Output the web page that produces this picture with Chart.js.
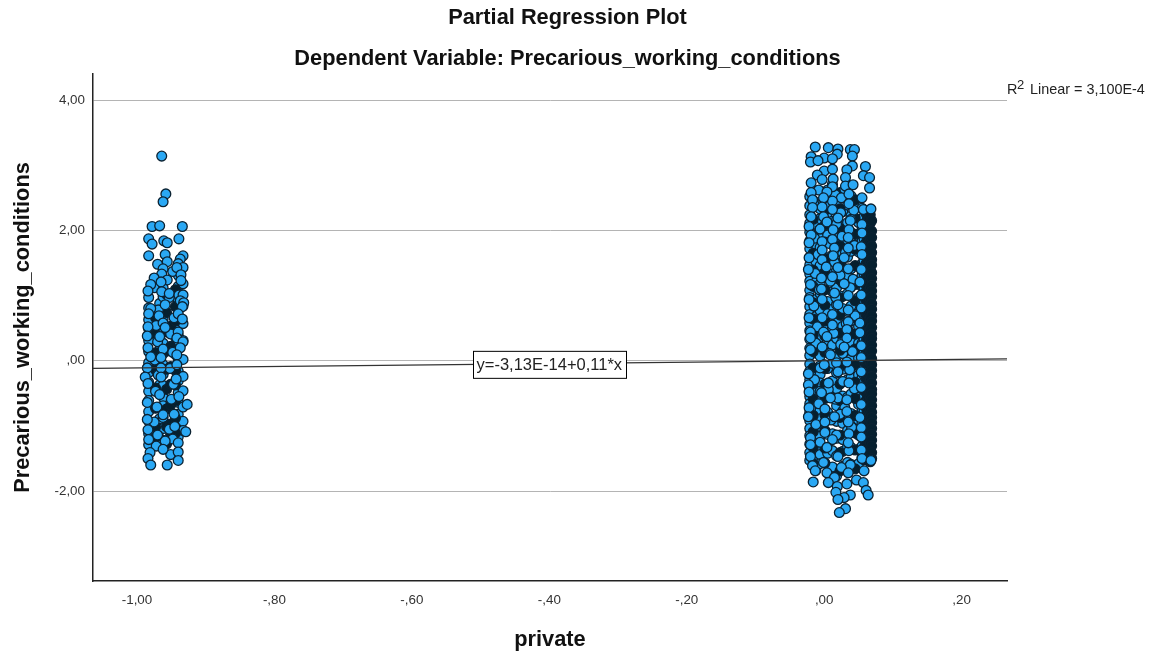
<!DOCTYPE html>
<html>
<head>
<meta charset="utf-8">
<title>Partial Regression Plot</title>
<script src="https://cdn.jsdelivr.net/npm/chart.js@4"></script>
<style>
  body { margin: 0; background: #fff; }
  canvas { display: block; }
</style>
</head>
<body>
<canvas id="myChart" width="1153" height="657"></canvas>
<script>
'use strict';

const xTicks = [-1, -0.8, -0.6, -0.4, -0.2, 0, 0.2];
const xTickLabels = ['-1,00', '-,80', '-,60', '-,40', '-,20', ',00', ',20'];
const yTicks = [4, 2, 0, -2];
const yTickLabels = ['4,00', '2,00', ',00', '-2,00'];

// regression line end points
const lineX = [-1.064, 0.266];
const lineY = [-0.117, 0.029];

// hidden points behind the visible ones, column by column
const leftColumnsX = [-0.983, -0.967, -0.962, -0.94, -0.933];
const leftColumnsY = [
  [0.97, 0.81, 0.63, 0.49, 0.31, 0.14, -0.03, -0.18, -0.33, -0.47, -0.61, -0.78, -0.93, -1.12, -1.29],
  [0.88, 0.71, 0.55, 0.33, 0.17, -0.01, -0.19, -0.37, -0.51, -0.71, -0.89, -1.07, -1.26],
  [1.12, 0.98, 0.79, 0.64, 0.46, 0.27, 0.11, -0.06, -0.21, -0.38, -0.56, -0.69, -0.87, -1.04, -1.22, -1.34],
  [1.31, 1.14, 0.93, 0.77, 0.58, 0.39, 0.24, 0.03, -0.16, -0.31, -0.49, -0.64, -0.82, -0.99, -1.17],
  [1.18, 0.84, 0.57, 0.31, 0.02, -0.24, -0.46, -0.71, -0.93, -1.07]
];
const leftBandX = [-0.973, -0.957, -0.951, -0.944];
const leftBandY = [
  [0.66, 0.41, 0.12, -0.14, -0.42, -0.73, -1.02, -1.18],
  [1.02, 0.74, 0.44, 0.15, -0.13, -0.44, -0.74, -1.01, -1.28],
  [0.53, 0.22, -0.09, -0.36, -0.68, -0.97, -1.13],
  [1.09, 0.83, 0.61, 0.36, 0.1, -0.15, -0.37, -0.62, -0.88, -1.11]
];
const rightColumnsX = [-0.021, -0.012, -0.006, 0.005, 0.012, 0.018, 0.027, 0.034, 0.039, 0.05, 0.055, 0.058];
const rightColumnsY = [
  [2.52, 2.38, 2.24, 2.11, 1.97, 1.84, 1.72, 1.59, 1.47, 1.33, 1.22, 1.08, 0.97, 0.83, 0.71, 0.58, 0.46, 0.33, 0.19, 0.08, -0.05, -0.16, -0.29, -0.41, -0.55, -0.66, -0.79, -0.92, -1.04, -1.15, -1.28, -1.41, -1.53],
  [2.41, 2.09, 1.78, 1.52, 1.21, 0.94, 0.68, 0.37, 0.12, -0.18, -0.44, -0.71, -0.98, -1.23, -1.49, -1.68],
  [2.33, 2.18, 2.02, 1.88, 1.74, 1.61, 1.46, 1.31, 1.18, 1.03, 0.89, 0.77, 0.62, 0.49, 0.36, 0.21, 0.07, -0.08, -0.21, -0.34, -0.47, -0.62, -0.76, -0.89, -1.01, -1.16, -1.31, -1.44, -1.58],
  [2.62, 2.27, 1.93, 1.58, 1.27, 0.91, 0.56, 0.23, -0.12, -0.46, -0.79, -1.13, -1.42, -1.71],
  [2.71, 2.43, 2.14, 1.86, 1.62, 1.33, 1.06, 0.79, 0.51, 0.24, -0.04, -0.31, -0.57, -0.86, -1.12, -1.38, -1.63],
  [2.44, 2.16, 1.89, 1.63, 1.38, 1.12, 0.86, 0.59, 0.34, 0.06, -0.19, -0.43, -0.69, -0.93, -1.19, -1.46, -1.77],
  [2.29, 2.07, 1.86, 1.64, 1.43, 1.19, 0.99, 0.78, 0.53, 0.31, 0.11, -0.13, -0.32, -0.54, -0.77, -0.96, -1.21, -1.39, -1.62],
  [2.64, 2.39, 2.12, 1.84, 1.59, 1.31, 1.03, 0.76, 0.49, 0.22, -0.03, -0.29, -0.56, -0.82, -1.07, -1.32, -1.56],
  [2.53, 2.22, 1.97, 1.68, 1.41, 1.13, 0.84, 0.61, 0.29, 0.03, -0.26, -0.51, -0.81, -1.08, -1.33, -1.59],
  [2.37, 2.12, 1.91, 1.67, 1.44, 1.22, 0.97, 0.73, 0.52, 0.27, 0.04, -0.22, -0.44, -0.67, -0.91, -1.14, -1.36, -1.58],
  [2.34, 2.17, 2.01, 1.83, 1.66, 1.49, 1.31, 1.14, 0.96, 0.79, 0.62, 0.44, 0.27, 0.09, -0.08, -0.26, -0.43, -0.61, -0.78, -0.96, -1.13, -1.31, -1.49],
  [2.31, 2.21, 2.09, 1.98, 1.87, 1.77, 1.66, 1.54, 1.43, 1.33, 1.21, 1.11, 0.99, 0.89, 0.77, 0.67, 0.56, 0.44, 0.33, 0.22, 0.12, 0.01, -0.11, -0.22, -0.33, -0.43, -0.56, -0.66, -0.77, -0.88, -0.99, -1.11, -1.21, -1.33, -1.44, -1.52]
];
// bands where the overlap is so thick that it reads as nearly black
const rightBandX = [-0.016, 0.001, 0.023, 0.045, 0.061, 0.063, 0.065, 0.067, 0.069];
const rightBandY = [
  [2.46, 2.17, 1.91, 1.65, 1.39, 1.14, 0.89, 0.64, 0.39, 0.14, -0.11, -0.35, -0.59, -0.84, -1.09, -1.33, -1.58],
  [2.56, 2.31, 2.08, 1.82, 1.56, 1.36, 1.09, 0.85, 0.61, 0.38, 0.13, -0.12, -0.36, -0.58, -0.83, -1.07, -1.34, -1.57],
  [2.58, 2.33, 2.03, 1.76, 1.49, 1.24, 0.96, 0.7, 0.42, 0.16, -0.09, -0.36, -0.61, -0.87, -1.14, -1.41, -1.69],
  [2.47, 2.19, 1.94, 1.71, 1.46, 1.17, 0.92, 0.66, 0.41, 0.18, -0.07, -0.33, -0.58, -0.84, -1.11, -1.37, -1.66],
  [2.26, 2.13, 2.04, 1.93, 1.81, 1.72, 1.61, 1.49, 1.38, 1.28, 1.16, 1.06, 0.93, 0.83, 0.71, 0.62, 0.51, 0.38, 0.29, 0.17, 0.07, -0.05, -0.16, -0.28, -0.38, -0.49, -0.61, -0.72, -0.83, -0.94, -1.06, -1.16, -1.28, -1.39, -1.51],
  [2.29, 2.22, 2.14, 2.07, 1.99, 1.92, 1.84, 1.77, 1.7, 1.62, 1.54, 1.47, 1.4, 1.32, 1.25, 1.17, 1.1, 1.02, 0.95, 0.87, 0.8, 0.72, 0.65, 0.58, 0.5, 0.42, 0.35, 0.27, 0.2, 0.12, 0.05, -0.03, -0.1, -0.17, -0.25, -0.33, -0.4, -0.47, -0.55, -0.62, -0.7, -0.78, -0.85, -0.92, -1, -1.07, -1.15, -1.22, -1.3, -1.37, -1.45, -1.52],
  [2.18, 2.03, 1.95, 1.82, 1.74, 1.64, 1.56, 1.45, 1.36, 1.27, 1.19, 1.08, 1, 0.91, 0.82, 0.74, 0.63, 0.54, 0.46, 0.36, 0.26, 0.18, 0.09, 0, -0.08, -0.19, -0.27, -0.35, -0.46, -0.53, -0.65, -0.74, -0.81, -0.9, -0.98, -1.08, -1.17, -1.24, -1.34, -1.43, -1.54],
  [2.24, 2.11, 1.96, 1.87, 1.79, 1.68, 1.58, 1.51, 1.39, 1.3, 1.21, 1.12, 1.04, 0.94, 0.86, 0.75, 0.67, 0.59, 0.48, 0.39, 0.31, 0.23, 0.14, 0.06, -0.04, -0.13, -0.21, -0.29, -0.38, -0.48, -0.57, -0.64, -0.74, -0.83, -0.91, -1.01, -1.09, -1.18, -1.26, -1.36, -1.47, -1.55],
  [2.15, 1.99, 1.89, 1.76, 1.66, 1.55, 1.47, 1.35, 1.26, 1.16, 1.07, 0.98, 0.88, 0.79, 0.69, 0.61, 0.51, 0.41, 0.34, 0.24, 0.15, 0.03, -0.06, -0.15, -0.24, -0.34, -0.44, -0.51, -0.6, -0.69, -0.79, -0.87, -0.95, -1.04, -1.13, -1.22, -1.31, -1.41, -1.5]
];
// more dots in the crowded parts of the two clusters
const leftExtraX = [-0.97, -0.948, -0.975, -0.953, -0.969, -0.946, -0.972, -0.951, -0.97, -0.948, -0.974, -0.952, -0.969, -0.947, -0.973, -0.95, -0.971, -0.946, -0.975, -0.953, -0.97, -0.948, -0.972, -0.951];
const leftExtraY = [1.48, 1.37, 1.12, 0.97, 0.78, 0.66, 0.54, 0.41, 0.29, 0.13, 0.01, -0.12, -0.22, -0.36, -0.47, -0.59, -0.71, -0.82, -0.94, -1.05, -1.14, -1.2, -1.31, -1.44];
const rightExtraX = [-0.008, 0.016, 0.03, -0.015, 0.008, 0.024, 0.043, -0.006, 0.018, 0.039, -0.014, 0.007, 0.026, 0.044, -0.009, 0.015, 0.031, -0.013, 0.009, 0.023, 0.042, -0.007, 0.017, 0.038, -0.015, 0.005, 0.027, 0.045, -0.01, 0.014, 0.032, -0.012, 0.008, 0.024, 0.041, -0.006, 0.018, 0.037, -0.014, 0.006, 0.027, 0.044, -0.008, 0.016, 0.03, -0.012, 0.01, 0.023, 0.04, -0.006, 0.018, 0.036];
const rightExtraY = [2.62, 2.55, 2.63, 2.4, 2.38, 2.27, 2.31, 2.02, 2.1, 2.17, 1.88, 1.8, 1.91, 1.77, 1.63, 1.51, 1.66, 1.34, 1.22, 1.31, 1.25, 1.09, 0.97, 1.12, 0.84, 0.72, 0.8, 0.69, 0.52, 0.42, 0.57, 0.27, 0.11, 0.25, 0.14, -0.11, -0.03, -0.14, -0.29, -0.44, -0.32, -0.43, -0.66, -0.59, -0.72, -0.98, -0.91, -0.82, -1.02, -1.25, -1.14, -1.38];

// points that can be read one by one
const leftX = [-0.964, -0.958, -0.962, -0.978, -0.967, -0.934, -0.983, -0.978, -0.961, -0.956, -0.939, -0.983, -0.959, -0.933, -0.937, -0.956, -0.94, -0.933, -0.942, -0.962, -0.964, -0.936, -0.975, -0.956, -0.936, -0.965, -0.98, -0.984, -0.964, -0.953, -0.939, -0.933, -0.937, -0.932, -0.959, -0.98, -0.934, -0.94, -0.983, -0.968, -0.962, -0.934, -0.984, -0.959, -0.94, -0.985, -0.967, -0.942, -0.933, -0.984, -0.962, -0.937, -0.942, -0.98, -0.965, -0.985, -0.942, -0.965, -0.988, -0.943, -0.965, -0.984, -0.967, -0.939, -0.927, -0.985, -0.962, -0.985, -0.945, -0.984, -0.929, -0.983, -0.959, -0.94, -0.962, -0.981, -0.94, -0.984, -0.94, -0.98, -0.956];
const leftY = [3.14, 2.56, 2.44, 2.06, 2.07, 2.06, 1.87, 1.79, 1.84, 1.81, 1.87, 1.61, 1.63, 1.61, 1.56, 1.52, 1.49, 1.43, 1.43, 1.41, 1.33, 1.32, 1.27, 1.24, 1.23, 1.21, 1.17, 1.07, 1.06, 1.03, 1.01, 1.01, 0.92, 0.89, 0.86, 0.8, 0.83, 0.72, 0.72, 0.69, 0.58, 0.64, 0.52, 0.51, 0.44, 0.38, 0.37, 0.35, 0.29, 0.2, 0.18, 0.2, 0.09, 0.06, 0.05, -0.11, -0.06, -0.11, -0.25, -0.28, -0.25, -0.35, -0.52, -0.55, -0.67, -0.64, -0.83, -0.9, -1.01, -1.06, -1.09, -1.21, -1.23, -1.26, -1.36, -1.41, -1.4, -1.5, -1.53, -1.6, -1.6];

const rightX = [-0.013, 0.006, 0.02, 0.038, 0.044, 0.019, 0.041, -0.019, 0, 0.012, -0.02, -0.009, 0.06, 0.041, 0, 0.012, 0.033, -0.01, 0.057, 0.066, 0.031, -0.003, 0.013, -0.019, 0.031, 0.066, 0.012, 0.042, -0.019, 0.004, 0.025, 0.036, 0.055, 0.012, -0.017, -0.001, 0.036, -0.003, -0.017, 0.057, 0.012, 0.068, -0.019, 0.02, -0.001, 0.004, 0.055, -0.022, 0.038, 0.013, 0.036, 0.055, -0.019, 0.035, 0.012, -0.003, -0.022, 0.054, 0.035, 0.015, -0.003, -0.022, 0.055, 0.029, 0.013, -0.003, 0.003, -0.023, 0.02, 0.035, 0.054, -0.004, 0.012, -0.02, 0.029, 0.052, -0.004, 0.015, 0.035, 0.054, -0.022, -0.003, 0.02, 0.054, 0.035, -0.022, -0.003, 0.012, 0.052, 0.035, -0.02, -0.001, 0.033, 0.052, 0.012, -0.02, 0.004, 0.033, -0.003, 0.029, 0.054, 0.009, -0.02, 0.033, 0.054, 0, 0.02, -0.023, 0.054, 0.006, -0.023, 0.036, 0.054, -0.004, -0.022, 0.02, 0.033, 0.009, -0.022, 0.001, 0.054, 0.033, -0.023, 0.015, 0.052, 0.035, 0.001, -0.02, 0.001, 0.012, 0.036, 0.054, 0.054, -0.02, 0.004, 0.035, 0.054, -0.02, 0.02, 0.055, 0.068, -0.001, -0.017, 0.038, 0.025, -0.013, 0.058, 0.004, 0.035, 0.015, 0.047, -0.016, 0.057, 0.033, 0.006, 0.019, 0.061, 0.038, 0.017, 0.064, 0.029, 0.02, 0.031, 0.022];
const rightY = [3.28, 3.27, 3.25, 3.24, 3.24, 3.17, 3.14, 3.13, 3.11, 3.1, 3.05, 3.07, 2.98, 2.99, 2.91, 2.94, 2.93, 2.85, 2.84, 2.81, 2.81, 2.78, 2.79, 2.73, 2.68, 2.65, 2.67, 2.7, 2.58, 2.59, 2.5, 2.56, 2.5, 2.45, 2.47, 2.5, 2.41, 2.36, 2.35, 2.32, 2.32, 2.33, 2.21, 2.19, 2.21, 2.13, 2.09, 2.06, 2.15, 2.01, 2.01, 1.96, 1.93, 1.89, 1.86, 1.83, 1.81, 1.75, 1.73, 1.73, 1.7, 1.58, 1.63, 1.58, 1.61, 1.55, 1.44, 1.4, 1.43, 1.41, 1.4, 1.27, 1.29, 1.17, 1.18, 1.21, 1.1, 1.04, 1, 1.01, 0.94, 0.94, 0.86, 0.81, 0.78, 0.66, 0.66, 0.71, 0.58, 0.6, 0.44, 0.44, 0.48, 0.43, 0.55, 0.35, 0.37, 0.35, 0.21, 0.21, 0.23, 0.09, 0.17, -0.02, 0.05, -0.06, -0.17, -0.2, -0.17, -0.34, -0.37, -0.34, -0.41, -0.49, -0.48, -0.57, -0.6, -0.57, -0.72, -0.74, -0.67, -0.78, -0.86, -0.86, -0.87, -0.94, -0.94, -1.18, -1.1, -1.21, -1.12, -1.03, -1.17, -1.29, -1.33, -1.26, -1.37, -1.47, -1.47, -1.5, -1.53, -1.56, -1.61, -1.6, -1.64, -1.69, -1.69, -1.72, -1.72, -1.79, -1.83, -1.86, -1.87, -1.89, -1.87, -1.93, -1.99, -2.06, -2.02, -2.06, -2.1, -2.13, -2.27, -2.33];

function toPoints(xs, ys) {
  return xs.map(function (x, i) {
    return { x: x, y: ys[i] };
  });
}

function columnsToPoints(colX, colY) {
  const points = [];
  for (let i = 0; i < colX.length; i++) {
    for (let j = 0; j < colY[i].length; j++) {
      points.push({ x: colX[i], y: colY[i][j] });
    }
  }
  return points;
}

const fixedTicks = function (values) {
  return function (scale) {
    scale.ticks = values.map(function (v) {
      return { value: v };
    });
  };
};

const pointStyle = {
  type: 'scatter',
  pointRadius: 4.9,
  pointHoverRadius: 4.9,
  pointBackgroundColor: '#2aa8f4',
  pointBorderColor: '#0b2232',
  pointBorderWidth: 1.3,
  showLine: false
};

const bandStyle = Object.assign({}, pointStyle, { pointBackgroundColor: '#06202f' });

const labelPlugin = {
  id: 'labels',
  afterDraw: function (chart) {
    const ctx = chart.ctx;
    const xScale = chart.scales.x;
    const yScale = chart.scales.y;
    ctx.save();

    // titles, centred a bit right of the plot as in the original
    ctx.fillStyle = '#111';
    ctx.font = 'bold 21.8px "Liberation Sans"';
    ctx.textAlign = 'center';
    ctx.textBaseline = 'alphabetic';
    ctx.fillText('Partial Regression Plot', 567.5, 24);
    ctx.fillText('Dependent Variable: Precarious_working_conditions', 567.5, 65);

    // equation box on the line
    const boxX = xScale.getPixelForValue(-0.4);
    const boxY = yScale.getPixelForValue(-0.04);
    ctx.fillStyle = '#fff';
    ctx.strokeStyle = '#000';
    ctx.lineWidth = 1;
    ctx.fillRect(473, boxY - 12, 153, 27);
    ctx.strokeRect(473.5, boxY - 12, 153, 27);
    ctx.fillStyle = '#222';
    ctx.font = '16.5px "Liberation Sans"';
    ctx.textBaseline = 'middle';
    ctx.fillText('y=-3,13E-14+0,11*x', boxX, boxY + 2);

    // R2 note at the end of the top gridline
    ctx.textAlign = 'left';
    ctx.textBaseline = 'alphabetic';
    ctx.font = '14.4px "Liberation Sans"';
    ctx.fillText('R', 1007, 94);
    ctx.font = '13px "Liberation Sans"';
    ctx.fillText('2', 1017, 89);
    ctx.font = '14.4px "Liberation Sans"';
    ctx.fillText('Linear = 3,100E-4', 1030, 94);
    ctx.restore();
  }
};

new Chart(document.getElementById('myChart'), {
  data: {
    datasets: [
      {
        type: 'line',
        data: toPoints(lineX, lineY),
        borderColor: '#333',
        borderWidth: 1.2,
        pointRadius: 0,
        fill: false,
        order: 0
      },
      Object.assign({ data: toPoints(rightX, rightY), order: 1 }, pointStyle),
      Object.assign({ data: toPoints(leftX, leftY), order: 1 }, pointStyle),
      Object.assign({ data: toPoints(rightExtraX, rightExtraY), order: 2 }, pointStyle),
      Object.assign({ data: toPoints(leftExtraX, leftExtraY), order: 2 }, pointStyle),
      Object.assign({ data: columnsToPoints(rightBandX, rightBandY), order: 3 }, bandStyle),
      Object.assign({ data: columnsToPoints(leftBandX, leftBandY), order: 3 }, bandStyle),
      Object.assign({ data: columnsToPoints(rightColumnsX, rightColumnsY), order: 4 }, pointStyle),
      Object.assign({ data: columnsToPoints(leftColumnsX, leftColumnsY), order: 4 }, pointStyle)
    ]
  },
  plugins: [labelPlugin],
  options: {
    responsive: false,
    animation: false,
    layout: { padding: { left: 0, right: 146, top: 74, bottom: 0 } },
    plugins: {
      legend: { display: false },
      tooltip: { enabled: false }
    },
    scales: {
      x: {
        type: 'linear',
        min: -1.064,
        max: 0.266,
        afterBuildTicks: fixedTicks(xTicks),
        afterFit: function (scale) {
          scale.height = 76;
        },
        border: { color: '#222', width: 1.5 },
        grid: { drawOnChartArea: false, tickColor: 'transparent', tickLength: 5 },
        ticks: {
          color: '#333',
          font: { family: '"Liberation Sans"', size: 13.4 },
          maxRotation: 0,
          autoSkip: false,
          padding: 6,
          callback: function (value) {
            return xTickLabels[xTicks.indexOf(value)];
          }
        },
        title: {
          display: true,
          text: 'private',
          color: '#111',
          font: { family: '"Liberation Sans"', size: 21.8, weight: 'bold' },
          padding: { top: 9 }
        }
      },
      y: {
        type: 'linear',
        min: -3.38,
        max: 4.4,
        afterBuildTicks: fixedTicks(yTicks),
        afterFit: function (scale) {
          scale.width = 93;
        },
        border: { color: '#222', width: 1.5 },
        grid: { color: '#b4b4b4', tickColor: 'transparent', tickLength: 5 },
        ticks: {
          color: '#333',
          font: { family: '"Liberation Sans"', size: 13.4 },
          padding: 3,
          callback: function (value) {
            return yTickLabels[yTicks.indexOf(value)];
          }
        },
        title: {
          display: true,
          text: 'Precarious_working_conditions',
          color: '#111',
          font: { family: '"Liberation Sans"', size: 21.8, weight: 'bold' },
          padding: { top: 10, bottom: 0 }
        }
      }
    }
  }
});
</script>
</body>
</html>
